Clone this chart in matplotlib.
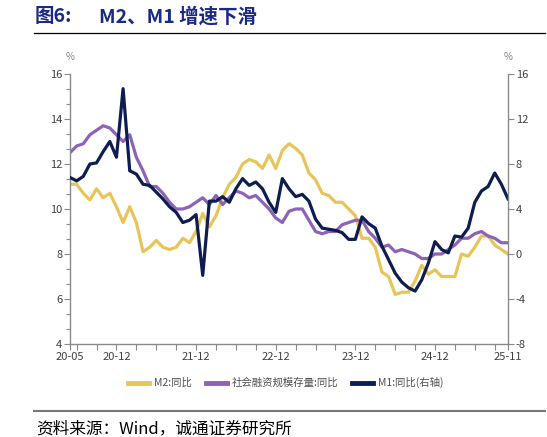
import matplotlib
matplotlib.use('Agg')
import matplotlib.pyplot as plt
from matplotlib.ticker import FixedLocator, MultipleLocator
import numpy as np

plt.rcParams['font.family'] = ['Noto Sans CJK SC', 'DejaVu Sans']
plt.rcParams['axes.unicode_minus'] = False

# 月度数据 2020-05 ~ 2025-11
m2 = [11.1, 11.1, 10.7, 10.4, 10.9, 10.5, 10.7, 10.1,
      9.4, 10.1, 9.4, 8.1, 8.3, 8.6, 8.3, 8.2, 8.3, 8.7, 8.5, 9.0,
      9.8, 9.2, 9.7, 10.5, 11.1, 11.4, 12.0, 12.2, 12.1, 11.8, 12.4, 11.8,
      12.6, 12.9, 12.7, 12.4, 11.6, 11.3, 10.7, 10.6, 10.3, 10.3, 10.0, 9.7,
      8.7, 8.7, 8.3, 7.2, 7.0, 6.2, 6.3, 6.3, 6.8, 7.5, 7.1, 7.3,
      7.0, 7.0, 7.0, 8.0, 7.9, 8.3, 8.8, 8.8, 8.4, 8.2, 8.0]
tsf = [12.5, 12.8, 12.9, 13.3, 13.5, 13.7, 13.6, 13.3,
       13.0, 13.3, 12.3, 11.7, 11.0, 11.0, 10.7, 10.3, 10.0, 10.0, 10.1, 10.3,
       10.5, 10.2, 10.6, 10.2, 10.5, 10.8, 10.7, 10.5, 10.6, 10.3, 10.0, 9.6,
       9.4, 9.9, 10.0, 10.0, 9.5, 9.0, 8.9, 9.0, 9.0, 9.3, 9.4, 9.5,
       9.5, 9.0, 8.7, 8.3, 8.4, 8.1, 8.2, 8.1, 8.0, 7.8, 7.8, 8.0,
       8.0, 8.2, 8.4, 8.7, 8.7, 8.9, 9.0, 8.8, 8.7, 8.5, 8.5]
m1 = [6.8, 6.5, 6.9, 8.0, 8.1, 9.1, 10.0, 8.6,
      14.7, 7.4, 7.1, 6.2, 6.1, 5.5, 4.9, 4.2, 3.7, 2.8, 3.0, 3.5,
      -1.9, 4.7, 4.7, 5.1, 4.6, 5.8, 6.7, 6.1, 6.4, 5.8, 4.6, 3.7,
      6.7, 5.8, 5.1, 5.3, 4.7, 3.1, 2.3, 2.2, 2.1, 1.9, 1.3, 1.3,
      3.3, 2.7, 2.3, 0.7, -0.5, -1.7, -2.5, -3.0, -3.3, -2.3, -0.8, 1.1,
      0.4, 0.1, 1.6, 1.5, 2.3, 4.6, 5.6, 6.0, 7.2, 6.2, 4.9]

labels = ['20-05', '20-12', '21-12', '22-12', '23-12', '24-12', '25-11']
label_pos = [0, 7, 19, 31, 43, 55, 66]

c_m2 = '#E8C558'
c_tsf = '#8D63B6'
c_m1 = '#0D1D4F'
gray = '#8a8a8a'

x = np.arange(len(m2))

fig = plt.figure(figsize=(5.47, 4.37), dpi=100)
ax = fig.add_axes([70/547, 1-344/437, 438/547, 270/437])
ax2 = ax.twinx()

l1, = ax.plot(x, m2, color=c_m2, lw=2.3, label='M2:同比', solid_joinstyle='round')
l2, = ax.plot(x, tsf, color=c_tsf, lw=2.3, label='社会融资规模存量:同比', solid_joinstyle='round')
l3, = ax2.plot(x, m1, color=c_m1, lw=2.3, label='M1:同比(右轴)', solid_joinstyle='round')

ax.set_xlim(0, 66)
ax.set_ylim(4, 16)
ax2.set_ylim(-8, 16)
ax.yaxis.set_major_locator(MultipleLocator(2))
ax.yaxis.set_minor_locator(MultipleLocator(2/3))
ax2.yaxis.set_major_locator(MultipleLocator(4))

# 季度刻度 + 首尾
qticks = [0] + [m for m in range(1, 66) if (m + 5) % 3 == 0] + [66]
ax.xaxis.set_major_locator(FixedLocator(qticks))
ax.set_xticklabels([labels[label_pos.index(t)] if t in label_pos else '' for t in qticks])

for a in (ax, ax2):
    for s in a.spines.values():
        s.set_visible(False)
ax.spines['left'].set_visible(True)
ax.spines['bottom'].set_visible(True)
ax2.spines['right'].set_visible(True)
for s in (ax.spines['left'], ax.spines['bottom'], ax2.spines['right']):
    s.set_color(gray)
    s.set_linewidth(1.0)

ax.tick_params(axis='both', which='major', length=4, color=gray, labelsize=8,
               labelcolor='#404040', pad=1.5, width=0.8)
ax.tick_params(axis='y', which='minor', length=3, color=gray, width=0.8)
ax2.tick_params(axis='y', which='major', length=4, color=gray, labelsize=8,
                labelcolor='#404040', pad=1.5, width=0.8)

fig.text(70/547, 1-57/437, '%', fontsize=7, color='#808080', ha='center', va='center')
fig.text(508/547, 1-57/437, '%', fontsize=7, color='#808080', ha='center', va='center')

leg = fig.legend(handles=[l1, l2, l3], loc='center', bbox_to_anchor=(286/547, 1-382.7/437),
                 ncol=3, frameon=False, fontsize=7.5, handlelength=2.0, columnspacing=1.3,
                 handletextpad=0.5)
for t in leg.get_texts():
    t.set_color('#505050')
for h in leg.legend_handles:
    h.set_linewidth(3.5)

fig.text(35/547, 1-17/437, '图6:', fontsize=14, fontweight='bold', color='#1B2A85',
         ha='left', va='center')
fig.text(99/547, 1-17/437, 'M2、M1 增速下滑', fontsize=14, fontweight='bold', color='#1B2A85',
         ha='left', va='center')
fig.add_artist(plt.Line2D([34/547, 545/547], [1-33/437, 1-33/437], color='black', lw=0.9))
fig.add_artist(plt.Line2D([34/547, 545/547], [1-410.5/437, 1-410.5/437], color='#777777', lw=1.5))
fig.text(36/547, 1-429/437, '资料来源：Wind，诚通证券研究所', fontsize=12, color='black',
         ha='left', va='center')

fig.savefig('out.png', dpi=100)
